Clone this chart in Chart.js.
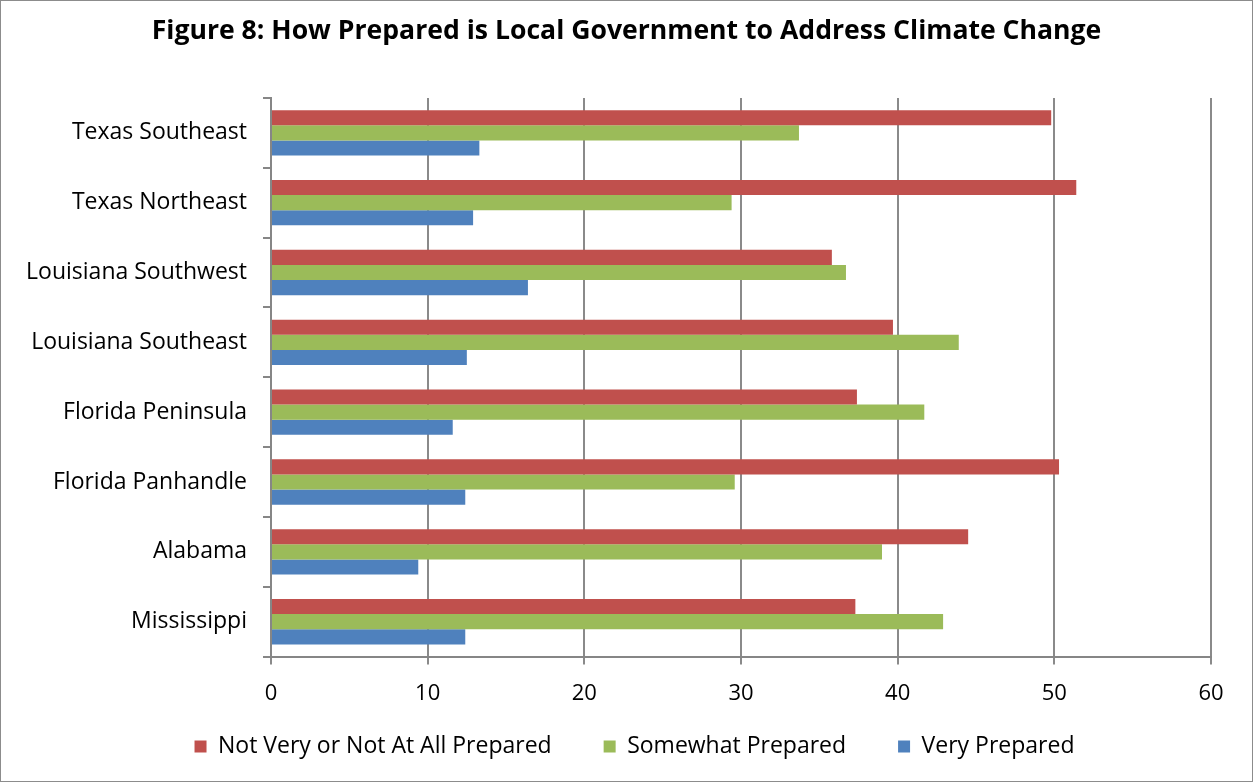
<!DOCTYPE html>
<html>
<head>
<meta charset="utf-8">
<script src="https://cdn.jsdelivr.net/npm/chart.js@4.4.0/dist/chart.umd.min.js"></script>
<style>
  html, body { margin: 0; padding: 0; background: #fff; }
  #wrap { position: relative; width: 1251px; height: 780px; border: 1px solid #8c8c8c; }
</style>
</head>
<body>
<div id="wrap"><canvas id="chart"></canvas></div>
<script>
const regions = ['Texas Southeast', 'Texas Northeast', 'Louisiana Southwest', 'Louisiana Southeast',
                 'Florida Peninsula', 'Florida Panhandle', 'Alabama', 'Mississippi'];

const notPrepared = [49.8, 51.4, 35.8, 39.7, 37.4, 50.3, 44.5, 37.3];
const somewhatPrepared = [33.7, 29.4, 36.7, 43.9, 41.7, 29.6, 39.0, 42.9];
const veryPrepared = [13.3, 12.9, 16.4, 12.5, 11.6, 12.4, 9.4, 12.4];

const xTicks = [0, 10, 20, 30, 40, 50, 60];

const fontFamily = "'Open Sans', 'Noto Sans', sans-serif";

// centre title across the whole canvas and drop legend a bit independently of the axis
const placeBlocks = {
    id: 'placeBlocks',
    afterLayout: function (chart) {
        chart.titleBlock.left = 0;
        chart.titleBlock.right = chart.width;
        chart.legend.left = 16;
        chart.legend.right = chart.width;
        chart.legend.top = 682;
    }
};

var config = {
    type: 'bar',
    data: {
        labels: regions,
        datasets: [{
            label: 'Not Very or Not At All Prepared',
            backgroundColor: '#c0504d',
            data: notPrepared
        }, {
            label: 'Somewhat Prepared',
            backgroundColor: '#9bbb59',
            data: somewhatPrepared
        }, {
            label: 'Very Prepared',
            backgroundColor: '#4f81bd',
            data: veryPrepared
        }]
    },
    options: {
        indexAxis: 'y',
        responsive: true,
        maintainAspectRatio: false,
        animation: false,
        barPercentage: 1,
        categoryPercentage: 0.65,
        layout: {
            padding: { left: 10, right: 41, top: 8, bottom: 0 }
        },
        scales: {
            x: {
                min: 0,
                max: 60,
                afterBuildTicks: function (axis) {
                    axis.ticks = xTicks.map(v => ({ value: v }));
                },
                border: { color: '#868686', width: 2 },
                grid: {
                    color: '#8a8a8a',
                    lineWidth: 2,
                    tickLength: 8
                },
                ticks: {
                    color: '#000',
                    font: { family: fontFamily, size: 22 },
                    padding: 16
                }
            },
            y: {
                afterFit: function (axis) {
                    axis.width = 260;
                },
                border: { color: '#868686', width: 2 },
                grid: {
                    offset: true,
                    drawOnChartArea: false,
                    color: '#868686',
                    lineWidth: 2,
                    tickLength: 8
                },
                ticks: {
                    color: '#000',
                    font: { family: fontFamily, size: 23 },
                    padding: 16
                }
            }
        },
        plugins: {
            title: {
                display: true,
                text: 'Figure 8: How Prepared is Local Government to Address Climate Change',
                color: '#000',
                font: { family: fontFamily, size: 26.6, weight: 'bold' },
                padding: { top: 6, bottom: 51 }
            },
            legend: {
                position: 'bottom',
                maxHeight: 58,
                labels: {
                    color: '#000',
                    font: { family: fontFamily, size: 23 },
                    boxWidth: 12,
                    boxHeight: 12,
                    padding: 52
                }
            },
            tooltip: { enabled: false }
        }
    },
    plugins: [placeBlocks]
};

window.onload = function () {
    var ctx = document.getElementById('chart').getContext('2d');
    window.prepChart = new Chart(ctx, config);
};
</script>
</body>
</html>
